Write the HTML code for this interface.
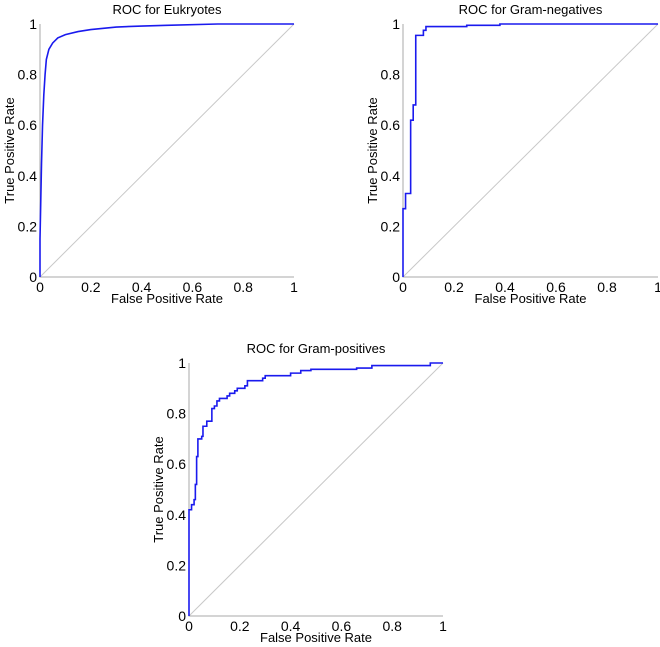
<!DOCTYPE html>
<html><head><meta charset="utf-8"><style>
html,body{margin:0;padding:0;background:#fff}
svg{display:block;font-family:"Liberation Sans",Arial,sans-serif}
</style></head><body>
<svg id="chart" width="660" height="647" viewBox="0 0 660 647"></svg>
<script>
const ticks = [0, 0.2, 0.4, 0.6, 0.8, 1];
const tickLabels = ["0", "0.2", "0.4", "0.6", "0.8", "1"];
const eukFpr = [0, 0, 0.003, 0.006, 0.01, 0.015, 0.02, 0.025, 0.035, 0.05, 0.07, 0.1, 0.15, 0.2, 0.3, 0.4, 0.5, 0.7, 1];
const eukTpr = [0, 0.15, 0.3, 0.45, 0.6, 0.72, 0.8, 0.86, 0.9, 0.925, 0.945, 0.958, 0.97, 0.978, 0.988, 0.992, 0.995, 1, 1];
const negFpr = [0, 0.01, 0.03, 0.04, 0.05, 0.08, 0.09, 0.25, 0.38, 1];
const negTpr = [0.27, 0.33, 0.62, 0.68, 0.955, 0.975, 0.99, 0.995, 1, 1];
const posFpr = [0, 0.01, 0.02, 0.025, 0.03, 0.035, 0.05, 0.055, 0.07, 0.09, 0.1, 0.11, 0.12, 0.15, 0.16, 0.18, 0.19, 0.22, 0.23, 0.29, 0.3, 0.4, 0.44, 0.48, 0.66, 0.72, 0.95, 1];
const posTpr = [0.42, 0.44, 0.46, 0.52, 0.63, 0.70, 0.71, 0.75, 0.77, 0.82, 0.83, 0.85, 0.86, 0.87, 0.88, 0.89, 0.90, 0.91, 0.93, 0.94, 0.95, 0.96, 0.97, 0.975, 0.98, 0.99, 1, 1];

const NS = "http://www.w3.org/2000/svg";
const svg = document.getElementById("chart");
function mk(tag, attrs, parent) {
  const e = document.createElementNS(NS, tag);
  for (const k in attrs) e.setAttribute(k, attrs[k]);
  (parent || svg).appendChild(e);
  return e;
}
function panel(key, title, x0, x1, yTop, yBot, fpr, tpr, step) {
  const g = mk("g", {});
  
  
  const sx = v => x0 + v * (x1 - x0);
  const sy = v => yBot - v * (yBot - yTop);
  const t = mk("text", {x: (x0 + x1) / 2, y: yTop - 10, "text-anchor": "middle", "font-size": 13, fill: "#000"}, g);
  t.textContent = title;
  
  
  const diag = mk("line", {x1: sx(0), y1: sy(0), x2: sx(1), y2: sy(1), stroke: "#c8c8c8", "stroke-width": 1}, g);
  
  
  const ax = mk("path", {d: `M${x0},${yTop}V${yBot}H${x1}`, fill: "none", stroke: "#aaa", "stroke-width": 1}, g);
  
  
  ticks.forEach((v, i) => {
    const lx = mk("text", {x: sx(v), y: yBot + 15, "text-anchor": "middle", "font-size": 14, fill: "#000"}, g);
    lx.textContent = tickLabels[i];
    
    
    const ly = mk("text", {x: x0 - 3, y: sy(v) + 5, "text-anchor": "end", "font-size": 14, fill: "#000"}, g);
    ly.textContent = tickLabels[i];
    
    
  });
  const xl = mk("text", {x: (x0 + x1) / 2, y: yBot + 26, "text-anchor": "middle", "font-size": 13, fill: "#000"}, g);
  xl.textContent = "False Positive Rate";
  
  
  const yx = x0 - 26, yy = (yTop + yBot) / 2;
  const yl = mk("text", {x: yx, y: yy, "text-anchor": "middle", "font-size": 13, fill: "#000", transform: `rotate(-90 ${yx} ${yy})`}, g);
  yl.textContent = "True Positive Rate";
  
  
  let d = `M${sx(0)},${sy(0)}`;
  for (let i = 0; i < fpr.length; i++) {
    if (step && i > 0) d += `L${sx(fpr[i])},${sy(tpr[i - 1])}`;
    else if (step) d += `L${sx(fpr[i])},${sy(0)}`;
    d += `L${sx(fpr[i])},${sy(tpr[i])}`;
  }
  const c = mk("path", {d: d, fill: "none", stroke: "#1a1aee", "stroke-width": 1.6}, g);
  
  
}
panel("eukaryotes", "ROC for Eukryotes", 40, 294, 24, 277, eukFpr, eukTpr, false);
panel("gram-negatives", "ROC for Gram-negatives", 403, 658, 24, 277, negFpr, negTpr, true);
panel("gram-positives", "ROC for Gram-positives", 189, 443, 363, 616, posFpr, posTpr, true);
</script>
</body></html>
